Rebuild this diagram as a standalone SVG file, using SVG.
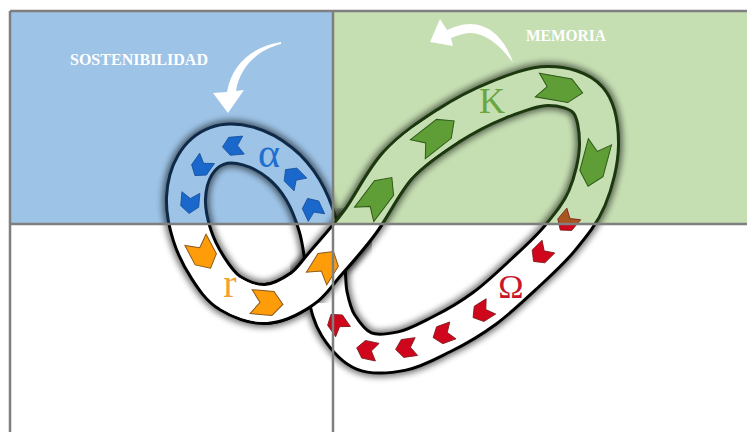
<svg xmlns="http://www.w3.org/2000/svg" xmlns:xlink="http://www.w3.org/1999/xlink" width="747" height="432" viewBox="0 0 747 432">
  <defs>
    <style>
      .grid { stroke: #7f7f7f; stroke-width: 2.5; fill: none; }
      .shadow { fill: none; stroke: #000; stroke-width: 47; opacity: 0.55; filter: url(#blur); }
      .edge { fill: none; stroke: url(#linepat); stroke-width: 42; }
      .fill { fill: none; stroke: url(#bandpat); stroke-width: 36; }
      .blue { fill: #1a68cc; stroke: #164f99; stroke-width: 0.8; }
      .green { fill: #5f9e36; stroke: #2f5a18; stroke-width: 1; }
      .orange { fill: #ff9c0a; stroke: #8a5a1c; stroke-width: 1; }
      .red { fill: #d0061c; stroke: #7a1a1a; stroke-width: 0.8; }
      .lbl { font-family: "Liberation Serif", "DejaVu Serif", serif; text-anchor: middle; }
      .note { font-family: "Liberation Serif", "DejaVu Serif", serif; font-weight: bold; font-size: 16px; fill: #fff; }
    </style>
    <filter id="blur" x="-20%" y="-20%" width="140%" height="140%">
      <feGaussianBlur stdDeviation="3"/>
    </filter>
    <pattern id="bandpat" patternUnits="userSpaceOnUse" x="0" y="0" width="747" height="432">
      <rect width="747" height="432" fill="#ffffff"/>
      <rect x="10" y="11" width="323" height="213" fill="#9dc3e6"/>
      <rect x="333" y="11" width="414" height="213" fill="#c5deb2"/>
    </pattern>
    <pattern id="linepat" patternUnits="userSpaceOnUse" x="0" y="0" width="747" height="432">
      <rect width="747" height="432" fill="#000000"/>
      <rect x="10" y="11" width="323" height="213" fill="#0e2a48"/>
      <rect x="333" y="11" width="414" height="213" fill="#1c380f"/>
    </pattern>
    <clipPath id="clipTop"><rect x="333" y="0" width="414" height="224"/></clipPath>
    <clipPath id="clipBot"><rect x="0" y="224" width="747" height="208"/></clipPath>
    <path id="chevBig" d="M-23,-12 L10,-12 L23,0 L10,12 L-23,12 L-13,0 Z"/>
    <path id="chevMid" d="M-16,-12 L6,-12 L16,0 L6,12 L-16,12 L-7,0 Z"/>
    <path id="chevSmall" d="M-10.5,-9 L3.5,-9 L10.5,0 L3.5,9 L-10.5,9 L-4.5,0 Z"/>
    <path id="loopFull" d="M266,304 C278,303.3 292.2,295.7 302,289 C311.8,282.3 315.3,275.2 325,264 C334.7,252.8 347.8,238.5 360,222 C372.2,205.5 383.3,181 398,165 C412.7,149 431.3,136.8 448,126 C464.7,115.2 481.3,106.7 498,100 C514.7,93.3 533,86 548,86 C563,86 579.5,90.2 588,100 C596.5,109.8 599.2,128.7 599,145 C598.8,161.3 593.5,182.5 587,198 C580.5,213.5 570.3,225.5 560,238 C549.7,250.5 537.5,261.3 525,273 C512.5,284.7 498.8,297.8 485,308 C471.2,318.2 456.2,327 442,334 C427.8,341 415.3,348.3 402,351 C388.7,353.7 374.3,355.2 364,351 C353.7,346.8 343.7,334 338,325 C332.3,316 330.2,306.2 328,296 C325.8,285.8 326.7,275.7 325,264 C323.3,252.3 321.7,238.3 318,226 C314.3,213.7 309.3,200.5 303,190 C296.7,179.5 289.2,170.3 280,163 C270.8,155.7 258.5,148.8 248,146 C237.5,143.2 225.8,142.8 217,146 C208.2,149.2 200.2,156.3 195,165 C189.8,173.7 186.5,186.3 186,198 C185.5,209.7 188.3,223.3 192,235 C195.7,246.7 201.7,258.3 208,268 C214.3,277.7 220.3,287 230,293 C239.7,299 254,304.7 266,304 Z"/>
    <path id="loopOver" d="M266,304 C278,303.3 292.2,295.7 302,289 C311.8,282.3 315.3,275.2 325,264 C334.7,252.8 347.8,238.5 360,222 C372.2,205.5 383.3,181 398,165"/>
    <path id="loopOverFill" d="M230,293 C239.7,299 254,304.7 266,304 C278,303.3 292.2,295.7 302,289 C311.8,282.3 315.3,275.2 325,264 C334.7,252.8 347.8,238.5 360,222 C372.2,205.5 383.3,181 398,165 C412.7,149 431.3,136.8 448,126"/>
    <path id="loopOverShadow" d="M302,289 C311.8,282.3 315.3,275.2 325,264 C334.7,252.8 347.8,238.5 360,222"/>
  </defs>

  <g id="background">
    <rect x="10" y="11" width="323" height="213" fill="#9dc3e6"/>
    <rect x="333" y="11" width="414" height="213" fill="#c5deb2"/>
  </g>

  <g id="connectors">
    <g id="cycle-band">
      <use xlink:href="#loopFull" class="shadow"/>
      <use xlink:href="#loopFull" class="edge"/>
      <use xlink:href="#loopFull" class="fill"/>
      <use xlink:href="#loopOverShadow" class="shadow"/>
      <use xlink:href="#loopOver" class="edge"/>
      <use xlink:href="#loopOverFill" class="fill"/>
    </g>
    <g id="flow-arrows">
      <use xlink:href="#chevSmall" class="blue" transform="translate(312,208) rotate(-115)"/>
      <use xlink:href="#chevSmall" class="blue" transform="translate(293,177) rotate(-135)"/>
      <use xlink:href="#chevSmall" class="blue" transform="translate(233,146) rotate(175)"/>
      <use xlink:href="#chevSmall" class="blue" transform="translate(201,167) rotate(125)"/>
      <use xlink:href="#chevSmall" class="blue" transform="translate(190,203) rotate(95)"/>
      <use xlink:href="#chevMid" class="orange" transform="translate(203,254) rotate(62)"/>
      <use xlink:href="#chevMid" class="orange" transform="translate(267,303) rotate(5)"/>
      <use xlink:href="#chevMid" class="orange" transform="translate(325,265) rotate(-58)"/>
      <use xlink:href="#chevBig" class="green" transform="translate(378,196) rotate(-53)"/>
      <use xlink:href="#chevBig" class="green" transform="translate(436,135) rotate(-38)"/>
      <use xlink:href="#chevBig" class="green" transform="translate(560,89) rotate(10)"/>
      <use xlink:href="#chevBig" class="green" transform="translate(594,164) rotate(105)"/>
      <g clip-path="url(#clipBot)">
        <use xlink:href="#chevSmall" class="red" transform="translate(567,222) rotate(130)"/>
      </g>
      <g clip-path="url(#clipTop)">
        <use xlink:href="#chevSmall" class="red" style="fill:#a8561e" transform="translate(567,222) rotate(130)"/>
      </g>
      <use xlink:href="#chevSmall" class="red" transform="translate(541,254) rotate(135)"/>
      <use xlink:href="#chevSmall" class="red" transform="translate(482,312) rotate(148)"/>
      <use xlink:href="#chevSmall" class="red" transform="translate(443,334) rotate(160)"/>
      <use xlink:href="#chevSmall" class="red" transform="translate(406,348) rotate(172)"/>
      <use xlink:href="#chevSmall" class="red" transform="translate(367,350) rotate(192)"/>
      <use xlink:href="#chevSmall" class="red" transform="translate(337,323) rotate(235)"/>
    </g>
  </g>

  <g id="node-alpha"><text class="lbl" x="269" y="167" font-size="42" fill="#1f6fd1">α</text></g>
  <g id="node-r"><text class="lbl" x="230" y="297" font-size="40" fill="#f3a132">r</text></g>
  <g id="node-K"><text class="lbl" x="492" y="113" font-size="36" fill="#6aa640">K</text></g>
  <g id="node-omega"><text class="lbl" x="511" y="298" font-size="34" fill="#c8162a">Ω</text></g>

  <g id="grid">
    <line class="grid" x1="10" y1="11" x2="747" y2="11"/>
    <line class="grid" x1="10" y1="11" x2="10" y2="432"/>
    <line class="grid" x1="333" y1="11" x2="333" y2="432"/>
    <line class="grid" x1="10" y1="224" x2="747" y2="224"/>
  </g>

  <g id="node-sostenibilidad">
    <text class="note" x="70" y="65" textLength="138" lengthAdjust="spacingAndGlyphs">SOSTENIBILIDAD</text>
    <path fill="#fff" d="M281,42 C255,46 232,62 227,92 L213,93 L228,113 L244,90 L236,91 C240,66 258,50 281,44 Z"/>
  </g>
  <g id="node-memoria">
    <text class="note" x="526" y="41" textLength="80" lengthAdjust="spacingAndGlyphs">MEMORIA</text>
    <path fill="#fff" d="M513,63 C506,40 490,24 470,24 C462,24 454,27 447,30 L440,19 L430,42 L453,46 L451,38 C458,35 465,33 471,33 C487,34 501,46 513,63 Z"/>
  </g>
</svg>
